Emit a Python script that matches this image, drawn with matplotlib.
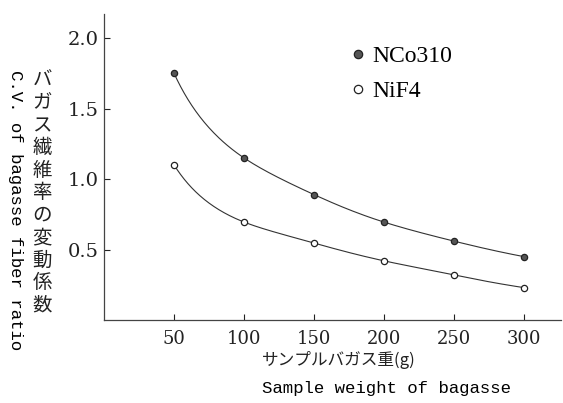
import numpy as np
import matplotlib
matplotlib.use("Agg")
import matplotlib.pyplot as plt
from matplotlib.lines import Line2D

# sample weight (g)
weights = [50, 100, 150, 200, 250, 300]
# C.V. of bagasse fiber ratio
cv_nco310 = [1.75, 1.15, 0.89, 0.695, 0.56, 0.45]
cv_nif4 = [1.10, 0.695, 0.546, 0.42, 0.32, 0.23]

x_ticks = [50, 100, 150, 200, 250, 300]
y_ticks = [0.5, 1.0, 1.5, 2.0]

serif = ['DejaVu Serif']
mono = ['Liberation Mono']
jp = ['Noto Sans CJK JP', 'DejaVu Sans']

fig = plt.figure(figsize=(5.63, 4.03), dpi=100)
ax = fig.add_axes([0.185, 0.206, 0.812, 0.759])


def spline(xs, ys, n=200):
    # natural cubic spline through the points, done in log-log space
    x = np.log(np.asarray(xs, float))
    y = np.log(np.asarray(ys, float))
    k = len(x)
    h = np.diff(x)
    A = np.zeros((k, k))
    b = np.zeros(k)
    A[0, 0] = A[-1, -1] = 1
    for i in range(1, k - 1):
        A[i, i - 1] = h[i - 1]
        A[i, i] = 2 * (h[i - 1] + h[i])
        A[i, i + 1] = h[i]
        b[i] = 3 * ((y[i + 1] - y[i]) / h[i] - (y[i] - y[i - 1]) / h[i - 1])
    c = np.linalg.solve(A, b)
    xx = np.linspace(x[0], x[-1], n)
    idx = np.clip(np.searchsorted(x, xx) - 1, 0, k - 2)
    dx = xx - x[idx]
    bb = (y[idx + 1] - y[idx]) / h[idx] - h[idx] * (2 * c[idx] + c[idx + 1]) / 3
    dd = (c[idx + 1] - c[idx]) / (3 * h[idx])
    yy = y[idx] + bb * dx + c[idx] * dx ** 2 + dd * dx ** 3
    return np.exp(xx), np.exp(yy)


line_col = '#333333'
for ys, face in [(cv_nco310, '#555555'), (cv_nif4, 'white')]:
    xx, yy = spline(weights, ys)
    ax.plot(xx, yy, color=line_col, lw=0.8, zorder=2)
    ax.plot(weights, ys, 'o', ms=4.5, mfc=face, mec='#222222', mew=0.9, zorder=3)

ax.set_xlim(0, 327)
ax.set_ylim(0, 2.17)
ax.set_xticks(x_ticks)
ax.set_yticks(y_ticks)
ax.set_xticklabels([str(v) for v in x_ticks], family=serif, fontsize=13)
ax.set_yticklabels(['%.1f' % v for v in y_ticks], family=serif, fontsize=14)
ax.tick_params(axis='x', direction='in', length=4, width=0.8, pad=7, colors='#222222')
ax.tick_params(axis='y', direction='in', length=4, width=0.8, pad=4, colors='#222222')
for s in ['top', 'right']:
    ax.spines[s].set_visible(False)
for s in ['left', 'bottom']:
    ax.spines[s].set_color('#444444')
    ax.spines[s].set_linewidth(0.9)

handles = [
    Line2D([], [], ls='none', marker='o', ms=6, mfc='#555555', mec='#222222', mew=0.9),
    Line2D([], [], ls='none', marker='o', ms=6, mfc='white', mec='#222222', mew=0.9),
]
ax.legend(handles, ['NCo310', 'NiF4'], loc='upper left', bbox_to_anchor=(0.54, 0.897),
          frameon=False, handlelength=0.6, handletextpad=0.3, labelspacing=0.56,
          borderpad=0, borderaxespad=0, prop={'family': 'Liberation Serif', 'size': 17})

# y axis labels: Japanese written vertically, English rotated
fig.text(0.075, 0.826, '\n'.join('バガス繊維率の変動係数'), family=jp, fontsize=14,
         ha='center', va='top', linespacing=1.09, multialignment='center', color='#222222')
fig.text(0.028, 0.826, 'C.V. of bagasse fiber ratio', family=mono, fontsize=12.5,
         rotation=-90, ha='center', va='top')

# x axis labels
fig.text(0.465, 0.107, 'サンプルバガス重(g)', family=jp, fontsize=12, ha='left', va='center',
         color='#222222')
fig.text(0.465, 0.037, 'Sample weight of bagasse', family=mono, fontsize=12.5,
         ha='left', va='center')

fig.savefig('out.png', dpi=100)
